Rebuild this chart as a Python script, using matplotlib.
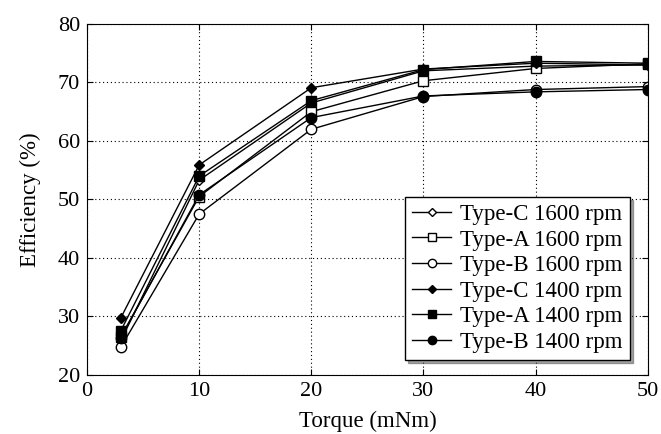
import numpy as np
import matplotlib.pyplot as plt

plt.rcParams['font.family'] = ['Liberation Serif', 'DejaVu Serif']

torque = [3, 10, 20, 30, 40, 50]

# efficiency (%)
c1600 = [25.8, 53.3, 66.5, 72.0, 72.8, 73.0]
a1600 = [26.5, 50.5, 65.0, 70.3, 72.4, 73.2]
b1600 = [24.7, 47.5, 62.0, 67.6, 68.8, 69.3]
c1400 = [29.7, 55.9, 69.1, 72.3, 73.3, 73.0]
a1400 = [27.5, 54.0, 66.9, 72.2, 73.6, 73.3]
b1400 = [26.3, 50.8, 64.0, 67.7, 68.4, 68.8]

labels = ["Type-C 1600 rpm", "Type-A 1600 rpm", "Type-B 1600 rpm",
          "Type-C 1400 rpm", "Type-A 1400 rpm", "Type-B 1400 rpm"]

fig = plt.figure(figsize=(6.61, 4.34), dpi=100)
ax = fig.add_axes([0.1316, 0.136, 0.8484, 0.8087])

ax.plot(torque, c1600, 'k-', marker='D', mfc='white', mec='k', ms=5.5, lw=1, label=labels[0])
ax.plot(torque, a1600, 'k-', marker='s', mfc='white', mec='k', ms=7, lw=1, label=labels[1])
ax.plot(torque, b1600, 'k-', marker='o', mfc='white', mec='k', ms=7.5, lw=1, label=labels[2])
ax.plot(torque, c1400, 'k-', marker='D', mfc='k', mec='k', ms=5.5, lw=1, label=labels[3])
ax.plot(torque, a1400, 'k-', marker='s', mfc='k', mec='k', ms=7, lw=1, label=labels[4])
ax.plot(torque, b1400, 'k-', marker='o', mfc='k', mec='k', ms=7.5, lw=1, label=labels[5])

ax.set_xlim(0, 50)
ax.set_ylim(20, 80)
ax.set_xticks(range(0, 51, 10))
ax.set_yticks(range(20, 81, 10))
ax.grid(True, color='k', linestyle=(0, (1, 2.5)), linewidth=0.8)
ax.tick_params(direction='in', top=True, right=True, labelsize=16, length=4, pad=5)
ax.set_xlabel('Torque (mNm)', fontsize=16.5, labelpad=7)
ax.set_ylabel('Efficiency (%)', fontsize=16.5, labelpad=12)

leg = ax.legend(loc='lower right', fontsize=16.5, frameon=True, fancybox=False,
                shadow=True, handlelength=1.7, labelspacing=0.2, markerscale=0.8,
                borderpad=0.3, handletextpad=0.4, borderaxespad=0,
                bbox_to_anchor=(0.968, 0.043))
leg.get_frame().set_edgecolor('k')
leg.get_frame().set_linewidth(1.0)

fig.savefig('out.png', dpi=100)
